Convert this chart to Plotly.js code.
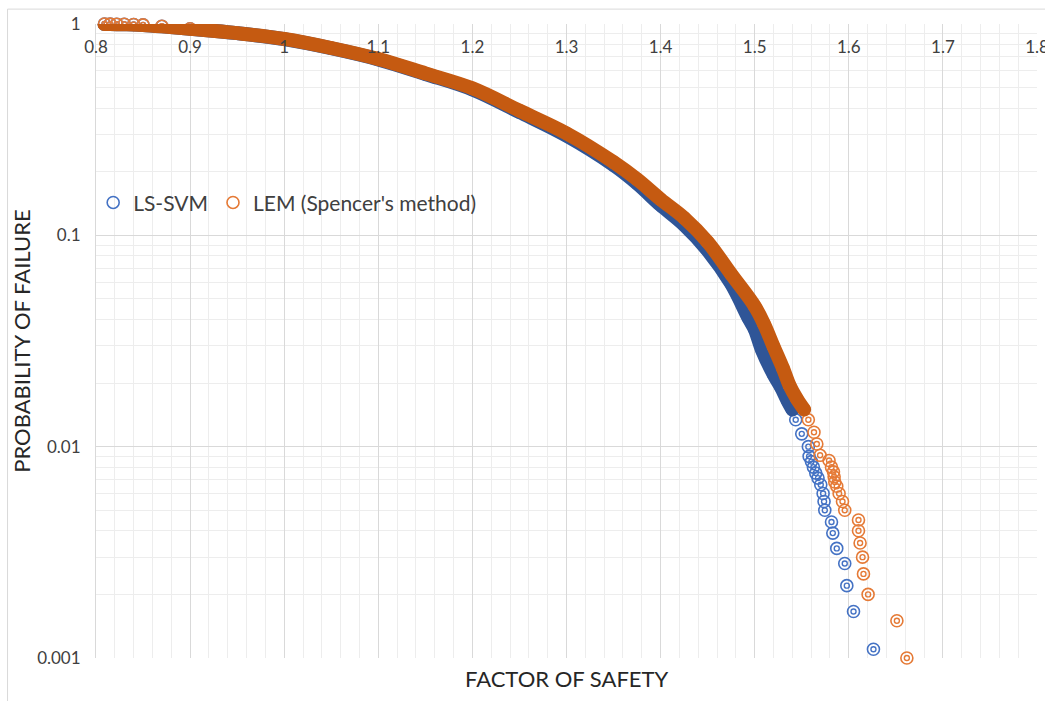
<!DOCTYPE html>
<html>
<head>
<meta charset="utf-8">
<script src="https://cdn.plot.ly/plotly-3.0.1.min.js"></script>
<style>
html,body{margin:0;padding:0;background:#fff;}
#chart{width:1045px;height:701px;}
#chart path.js-line{stroke-linecap:round !important;stroke-linejoin:round !important;}
#chart .cartesianlayer .plot{clip-path:none !important;}
</style>
</head>
<body>
<div id="chart"></div>
<script>
// ---- data ----
const seriesNames = ["LS-SVM", "LEM (Spencer's method)"];

const lsSvmFS = [0.809, 0.815, 0.822, 0.830, 0.840, 0.850, 0.870, 0.900, 0.950, 1.000, 1.050, 1.100, 1.150, 1.200, 1.250, 1.300, 1.350, 1.375, 1.400, 1.425, 1.450, 1.475, 1.4936, 1.500, 1.508, 1.520, 1.528, 1.535, 1.540, 1.5436, 1.550, 1.557, 1.5578, 1.5603, 1.5624, 1.5649, 1.5673, 1.5702, 1.5727, 1.5737, 1.5745, 1.5816, 1.583, 1.5872, 1.5957, 1.5979, 1.605, 1.6262];
const lsSvmPF = [0.9995, 0.999, 0.998, 0.997, 0.995, 0.99, 0.975, 0.950, 0.905, 0.848, 0.768, 0.680, 0.580, 0.490, 0.383, 0.296, 0.215, 0.176, 0.139, 0.112, 0.085, 0.059, 0.0405, 0.036, 0.0285, 0.022, 0.0191, 0.0165, 0.0150, 0.0134, 0.0115, 0.0100, 0.0090, 0.0085, 0.0080, 0.0075, 0.0071, 0.0066, 0.0060, 0.0055, 0.0050, 0.0044, 0.0039, 0.0033, 0.0028, 0.0022, 0.00166, 0.0011];

const lemFS = [0.809, 0.815, 0.822, 0.830, 0.840, 0.850, 0.870, 0.900, 0.950, 1.000, 1.050, 1.100, 1.150, 1.200, 1.250, 1.300, 1.350, 1.375, 1.400, 1.425, 1.450, 1.475, 1.500, 1.510, 1.520, 1.530, 1.537, 1.545, 1.5525, 1.557, 1.563, 1.566, 1.5695, 1.579, 1.5816, 1.5837, 1.5844, 1.5851, 1.5872, 1.5897, 1.5933, 1.5957, 1.6103, 1.6103, 1.612, 1.6146, 1.6156, 1.6205, 1.6511, 1.6617];
const lemPF = [0.9995, 0.999, 0.998, 0.997, 0.995, 0.99, 0.975, 0.950, 0.905, 0.850, 0.770, 0.683, 0.584, 0.496, 0.389, 0.304, 0.222, 0.184, 0.148, 0.121, 0.093, 0.0655, 0.0462, 0.0380, 0.0298, 0.0235, 0.0195, 0.0168, 0.0150, 0.0134, 0.0117, 0.0103, 0.0091, 0.0086, 0.0080, 0.0076, 0.0072, 0.0068, 0.0065, 0.0060, 0.0055, 0.0050, 0.0045, 0.0040, 0.0035, 0.0030, 0.0025, 0.0020, 0.0015, 0.0010];

const xTickVals = [0.8, 0.9, 1.0, 1.1, 1.2, 1.3, 1.4, 1.5, 1.6, 1.7, 1.8];
const xTickText = ["0.8", "0.9", "1", "1.1", "1.2", "1.3", "1.4", "1.5", "1.6", "1.7", "1.8"];
const yTickVals = [0.001, 0.01, 0.1, 1];
const yTickText = ["0.001", "0.01", "0.1", "1"];

// ---- styling ----
const FONT = "Lato, 'Open Sans', sans-serif";
const colors = {
  blue: {ring: "#4472C4", band: "#2F5597"},
  orange: {ring: "#E57A36", band: "#C55A11"}
};

// dense part of each curve (drawn as a thick band, as overlapping markers look)
function bandPart(xs, ys) {
  const bx = [], by = [];
  for (let i = 0; i < xs.length; i++) {
    if (ys[i] >= 0.0145) { bx.push(xs[i]); by.push(ys[i]); }
  }
  return {x: bx, y: by};
}

function seriesTraces(name, xs, ys, c) {
  const band = bandPart(xs, ys);
  return [
    {type: "scatter", mode: "markers", x: xs, y: ys, name: name, legendgroup: name,
     cliponaxis: false, hoverinfo: "skip",
     marker: {symbol: "circle-open", size: 12, color: c.ring, line: {width: 1.6, color: c.ring}}},
    {type: "scatter", mode: "markers", x: xs, y: ys, name: name, legendgroup: name, showlegend: false,
     cliponaxis: false, hoverinfo: "skip",
     marker: {symbol: "circle-open", size: 5, color: c.ring, line: {width: 1.4, color: c.ring}}},
    {type: "scatter", mode: "lines", x: band.x, y: band.y, name: name, legendgroup: name, showlegend: false,
     hoverinfo: "skip", line: {color: c.band, width: 14, shape: "spline", smoothing: 1}}
  ];
}

const data = [].concat(
  seriesTraces(seriesNames[0], lsSvmFS, lsSvmPF, colors.blue),
  seriesTraces(seriesNames[1], lemFS, lemPF, colors.orange)
);

const minorY = [];
for (let d = -3; d < 0; d++) {
  for (let k = 2; k <= 9; k++) minorY.push(k * Math.pow(10, d));
}

const layout = {
  width: 1045, height: 701,
  margin: {l: 96, r: 8, t: 24, b: 43},
  paper_bgcolor: "#ffffff", plot_bgcolor: "#ffffff",
  font: {family: FONT, color: "#404040"},
  showlegend: true,
  legend: {orientation: "h", x: -0.003, xanchor: "left", y: 0.718, yanchor: "middle",
           bgcolor: "rgba(0,0,0,0)", font: {family: FONT, size: 21, color: "#404040"},
           traceorder: "normal"},
  xaxis: {
    type: "linear", range: [0.8, 1.8], side: "top",
    tickmode: "array", tickvals: xTickVals, ticktext: xTickText,
    ticklabelposition: "inside", ticklabeloverflow: "allow", ticklabelstandoff: 14,
    ticks: "", showline: false, zeroline: false,
    showgrid: true, gridcolor: "#D9D9D9", gridwidth: 1,
    minor: {dtick: 0.02, showgrid: true, gridcolor: "#EDEDED", gridwidth: 1, ticks: ""},
    tickfont: {family: FONT, size: 17, color: "#404040"},
    fixedrange: true
  },
  yaxis: {
    type: "log", range: [-3, 0],
    tickmode: "array", tickvals: yTickVals, ticktext: yTickText,
    ticks: "", ticklabelstandoff: 11, showline: true, linecolor: "#D9D9D9", zeroline: false,
    showgrid: true, gridcolor: "#D9D9D9", gridwidth: 1,
    minor: {tickvals: minorY, showgrid: true, gridcolor: "#EDEDED", gridwidth: 1, ticks: ""},
    tickfont: {family: FONT, size: 17, color: "#404040"},
    title: {text: "PROBABILITY OF FAILURE", standoff: 0, font: {family: FONT, size: 22, color: "#262626"}},
    fixedrange: true
  },
  annotations: [
    {text: "FACTOR OF SAFETY", xref: "paper", yref: "paper", x: 0.5, y: -0.032,
     xanchor: "center", yanchor: "middle", showarrow: false,
     font: {family: FONT, size: 22, color: "#262626"}}
  ],
  shapes: [
    {type: "rect", xref: "paper", yref: "paper", x0: -0.094, x1: 1.05, y0: -0.08, y1: 1.0235,
     line: {color: "#D9D9D9", width: 1}, fillcolor: "rgba(0,0,0,0)", layer: "below"}
  ]
};

Plotly.newPlot("chart", data, layout, {staticPlot: true, displayModeBar: false});
</script>
</body>
</html>
